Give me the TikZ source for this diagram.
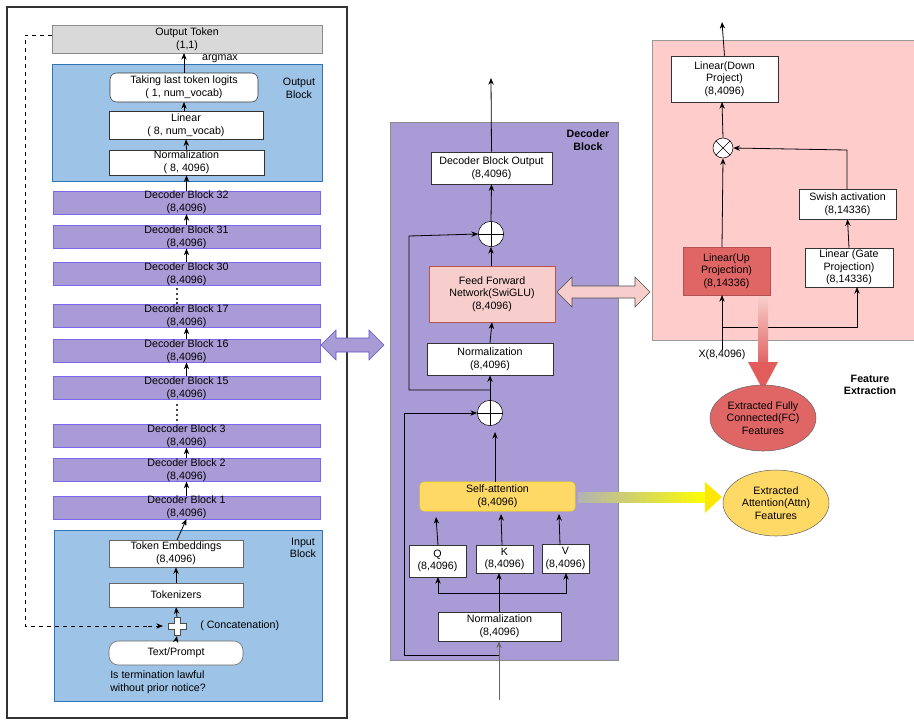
\documentclass[tikz,border=0pt]{standalone}
\usepackage{fontspec}
\setmainfont{Liberation Sans}
\usetikzlibrary{arrows.meta,shapes.geometric,calc}
\definecolor{purp}{HTML}{A99BD5}
\definecolor{purpB}{HTML}{7B68EE}
\definecolor{blu}{HTML}{9DC3E6}
\definecolor{bluB}{HTML}{2E75B6}
\definecolor{pnk}{HTML}{FFCCCC}
\definecolor{pnkB}{HTML}{F8CECC}
\definecolor{redd}{HTML}{E06666}
\definecolor{redB}{HTML}{B85450}
\definecolor{yel}{HTML}{FFD966}
\newcommand\bx[7][]{\node[box,#1,minimum width={(#4-#2)*0.75pt},minimum height={(#5-#3)*0.75pt}] (#6) at ({(#2+#4)/2},{(#3+#5)/2}) {#7};}
\tikzset{
  box/.style={draw=black!80,fill=white,inner sep=0pt,align=center,font=\fontsize{8}{9.5}\selectfont},
  dec/.style={fill=purp,draw=purpB},
  ar/.style={-{Stealth[length=5pt,width=4pt]},black,line width=0.6pt},
  ln/.style={black,line width=0.6pt},
  lab/.style={font=\fontsize{8}{9.5}\selectfont,align=center,inner sep=0pt},
  blab/.style={font=\bfseries\fontsize{8}{9.5}\selectfont,align=center,inner sep=0pt},
  circ/.style={circle,draw=black,fill=white,minimum size=19pt,inner sep=0pt},
}
\begin{document}
\begin{tikzpicture}[x=0.75pt,y=-0.75pt]
\useasboundingbox (0,0) rectangle (914,726);
% left frame
\draw[black!80,line width=0.8pt] (7,7) rectangle (347,718);
\bx[fill=black!15,draw=black!45]{52}{25}{322}{53}{out}{Output Token\\(1,1)}
\node[lab] at (220,59) {argmax};
\bx[fill=blu,draw=bluB]{52}{64}{322}{181}{outblk}{}
\node[lab] at (299,88) {Output\\Block};
\bx[rounded corners=5pt]{110}{73}{258}{102}{logit}{Taking last token logits\\( 1, num\_vocab)}
\bx{109}{111}{263}{139}{lin}{Linear\\( 8, num\_vocab)}
\bx{109}{150}{264}{175}{norm}{Normalization\\( 8, 4096)}
\bx[dec]{53}{192}{320}{213}{d32}{Decoder Block 32\\(8,4096)}
\bx[dec]{53}{226}{320}{248}{d31}{Decoder Block 31\\(8,4096)}
\bx[dec]{53}{263}{320}{285}{d30}{Decoder Block 30\\(8,4096)}
\bx[dec]{53}{305}{320}{327}{d17}{Decoder Block 17\\(8,4096)}
\bx[dec]{53}{340}{320}{362}{d16}{Decoder Block 16\\(8,4096)}
\bx[dec]{53}{377}{320}{399}{d15}{Decoder Block 15\\(8,4096)}
\bx[dec]{53}{425}{320}{447}{d3}{Decoder Block 3\\(8,4096)}
\bx[dec]{53}{459}{320}{481}{d2}{Decoder Block 2\\(8,4096)}
\bx[dec]{53}{497}{320}{518}{d1}{Decoder Block 1\\(8,4096)}
\foreach \y in {289,294,299,303,405,410,415,420} \fill (177,\y) circle (1.2);
\bx[fill=blu,draw=bluB]{54}{530}{322}{701}{inblk}{}
\node[lab] at (303,548) {Input\\Block};
\bx[draw=black!60]{109}{540}{243}{567}{emb}{Token Embeddings\\(8,4096)}
\bx[draw=black!60]{109}{583}{243}{607}{tok}{Tokenizers}
\bx[rounded corners=7pt,draw=black!60]{109}{641}{243}{665}{txt}{Text/Prompt}
\fill[white,draw=black!70] (168,623)--(174,623)--(174,617)--(180,617)--(180,623)--(186,623)--(186,629)--(180,629)--(180,635)--(174,635)--(174,629)--(168,629)--cycle;
\node[lab,anchor=west] at (200,626) {( Concatenation)};
\node[lab,anchor=west,align=left] at (110,682) {Is termination lawful\\without prior notice?};
\draw[ln,dashed] (52,35) -- (25,35) -- (25,626) -- (150,626);
\draw[-{Stealth[length=5pt,width=4pt]},dashed,line width=0.6pt] (148,626)--(163,626);
\draw[ar] (txt.north) -- (177,636);
\draw[ar] (177,617) -- (tok.south);
\draw[ar] (tok.north) -- (emb.south);
\draw[ar] (177,540) -- (d1.south);
\draw[ar] (d1.north) -- (d2.south);
\draw[ar] (d2.north) -- (d3.south);
\draw[ar] (d16.north) -- (d17.south);
\draw[ar] (d31.north) -- (d32.south);
\draw[ar] (d30.north) -- (d31.south);
\draw[ar] (d15.north) -- (d16.south);
\draw[ar] (d32.north) -- (norm.south);
\draw[ar] (norm.north) -- (lin.south);
\draw[ar] (184,111) -- (184,102);
\draw[ar] (184,73) -- (184,53);
% big double arrow left
\fill[purp,draw=purpB!80!black] (321,345)--(336,330)--(336,338)--(369,338)--(369,330)--(384,345)--(369,360)--(369,352)--(336,352)--(336,360)--cycle;
% decoder panel
\bx[fill=purp,draw=black!45]{390}{122}{618}{660}{decpanel}{}
\node[blab] at (588,140) {Decoder\\Block};
\bx{431}{152}{552}{184}{dbo}{Decoder Block Output\\(8,4096)}
\node[circ] (op1) at (491,234) {};
\draw (op1.north)--(op1.south) (op1.west)--(op1.east);
\bx[fill=pnkB,draw=redB]{429}{266}{555}{322}{ffn}{Feed Forward\\Network(SwiGLU)\\(8,4096)}
\bx{427}{343}{553}{375}{n2}{Normalization\\(8,4096)}
\node[circ] (op2) at (490,413) {};
\draw (op2.north)--(op2.south) (op2.west)--(op2.east);
\bx[fill=yel,draw=yellow!80!orange,rounded corners=3pt]{420}{482}{575}{511}{sa}{Self-attention\\(8,4096)}
\bx{409}{545}{466}{577}{q}{Q\\(8,4096)}
\bx{476}{545}{533}{573}{k}{K\\(8,4096)}
\bx{542}{544}{589}{573}{v}{V\\(8,4096)}
\bx{438}{612}{561}{641}{n3}{Normalization\\(8,4096)}
\coordinate (inb) at (499,700);
\draw[ar,black!60] (inb) -- (n3.south-|inb);
\draw[ar] (499,655) -- (404,655) -- (404,413) -- (op2.west);
\draw[ln] (499,612) -- (499,593);
\draw[ar] (438,593) -- (438,577);
\draw[ar] (499,593) -- (499,573);
\draw[ar] (438,593) -- (566,593) -- (566,573);
\draw[ar] (438,545) -- (436,517);
\draw[ar] (502,545) -- (501,514);
\draw[ar] (560,545) -- (559,514);
\draw[ar] (495,482) -- (495,432);
\draw[ar] (op2.north) -- (n2.south);
\draw[ar] (490,390) -- (409,390) -- (409,236) -- (op1.west);
\draw[ar] (n2.north) -- (ffn.south);
\draw[ar] (491,266) -- (op1.south);
\draw[ar] (op1.north) -- (dbo.south);
\draw[ar] (dbo.north) -- (491,78);
% ffn double arrow
\fill[pnkB,draw=black!70] (557,292)--(572,277)--(572,286)--(635,286)--(635,277)--(650,292)--(635,307)--(635,298)--(572,298)--(572,307)--cycle;
% feature panel
\fill[pnk,draw=black!40] (914,40)--(652,40)--(652,340)--(914,340);
\node[blab] at (870,385) {Feature\\Extraction};
\bx{671}{56}{778}{102}{down}{Linear(Down\\Project)\\(8,4096)}
\draw[ar] (down.north) -- (722,22);
\node[circ,minimum size=15pt] (ot) at (723,148) {};
\draw ($(ot.center)+(45:7.5pt)$) -- ($(ot.center)+(225:7.5pt)$);
\draw ($(ot.center)+(135:7.5pt)$) -- ($(ot.center)+(315:7.5pt)$);
\bx[fill=redd,draw=redd!80!black]{683}{247}{770}{295}{up}{Linear(Up\\Projection)\\(8,14336)}
\bx{805}{248}{893}{287}{gate}{Linear (Gate\\Projection)\\(8,14336)}
\bx{799}{189}{896}{219}{sw}{Swish activation\\(8,14336)}
\draw[ar] (gate.north) -- (sw.south);
\draw[ar] (847,189) -- (847,150) -- (ot.east);
\draw[ar] (722,247) -- (ot.south);
\draw[ar] (ot.north) -- (722,102);
\node[lab] (x) at (722,355) {X(8,4096)};
\draw[ar] (x.north) -- (722,295);
\draw[ar] (722,327) -- (857,327) -- (857,287);
% fat red arrow
\shade[top color=pnkB,bottom color=redd] (758,296) rectangle (768,362);
\fill[redd!90!red] (748,362)--(778,362)--(763,390)--cycle;
\node[ellipse,draw=black!60,fill=redd,minimum width={106*0.75pt},minimum height={66*0.75pt},lab] (fc) at (763,418) {Extracted Fully\\Connected(FC)\\Features};
% fat yellow arrow
\shade[left color=black!30,right color=yellow] (578,492) rectangle (708,502);
\fill[yellow!90!orange] (705,482)--(722,497)--(705,513)--cycle;
\node[ellipse,draw=black!60,fill=yel,minimum width={106*0.75pt},minimum height={66*0.75pt},lab] (attn) at (776,503) {Extracted\\Attention(Attn)\\Features};
\end{tikzpicture}
\end{document}
